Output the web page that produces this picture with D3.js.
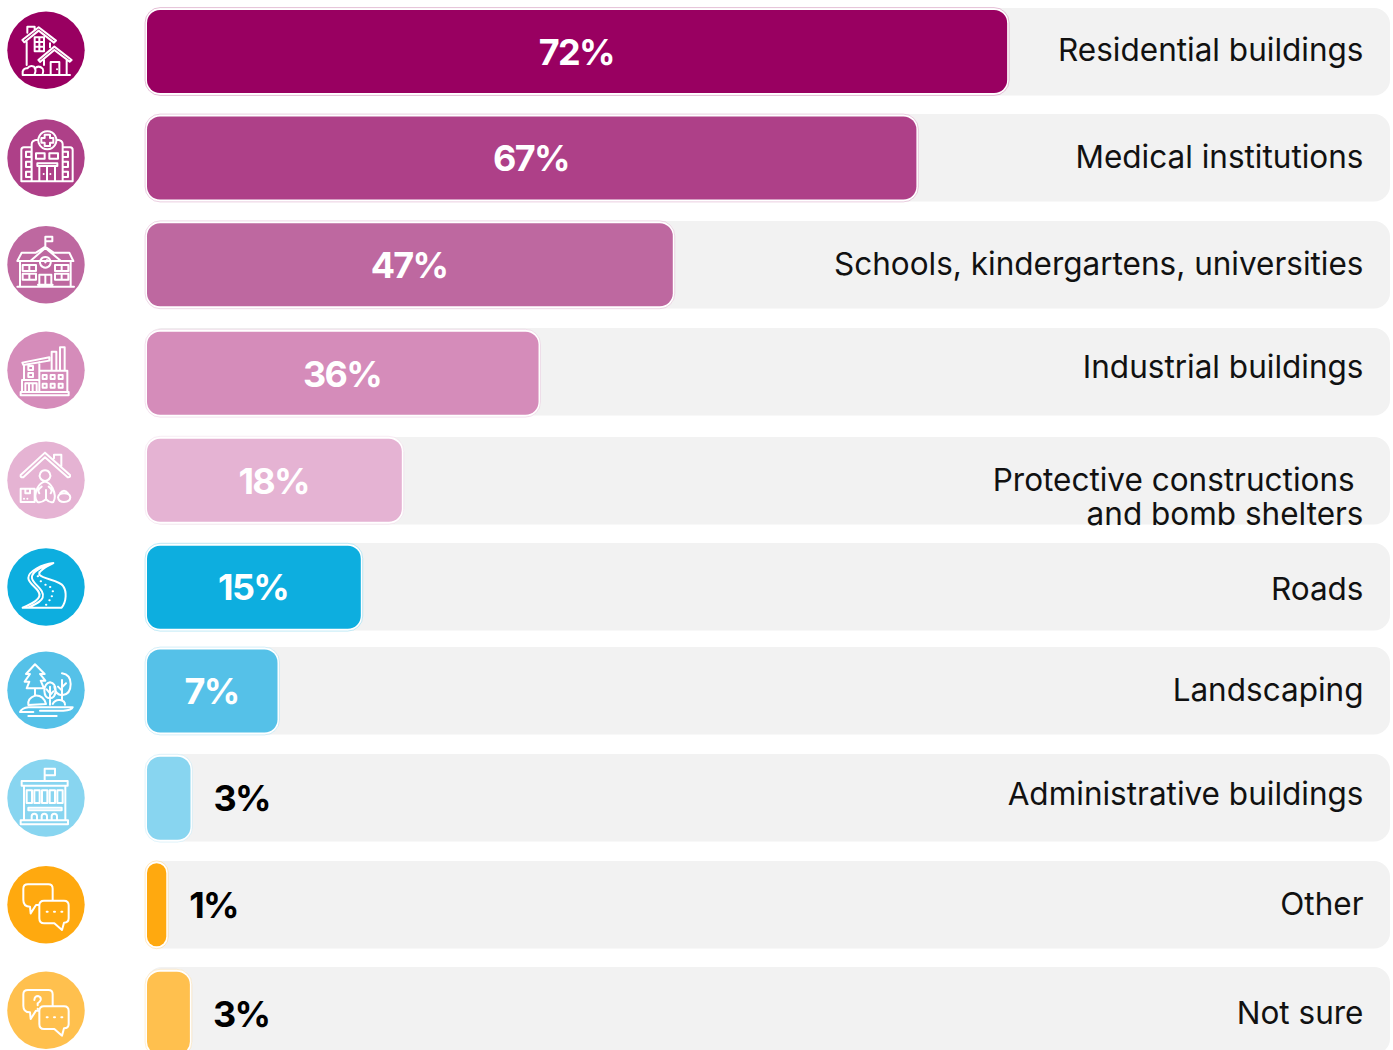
<!DOCTYPE html>
<html>
<head>
<meta charset="utf-8">
<style>
  html, body { margin: 0; background: #fff; }
  svg { display: block; }
  text { font-family: Inter, "Noto Sans", sans-serif; }
  .pct { font-size: 36px; font-weight: 700; letter-spacing: -1.7px; }
  .name { font-size: 31.5px; fill: #111; white-space: pre; }
  .icon path { fill: none; stroke: #fff; stroke-width: 6; stroke-linejoin: round; stroke-linecap: round; }
</style>
</head>
<body>
<svg id="chart"></svg>
<script src="https://cdn.jsdelivr.net/npm/d3@7"></script>
<script>
// values as printed on the chart
const categories = ["Residential buildings", "Medical institutions", "Schools, kindergartens, universities",
  "Industrial buildings", "Protective constructions \nand bomb shelters", "Roads", "Landscaping",
  "Administrative buildings", "Other", "Not sure"];
const printedValues = [72, 67, 47, 36, 18, 15, 7, 3, 1, 3];
// the bars in the picture are not proportional to the printed values, these are the lengths read off it
const drawnLengths = [69.2, 61.9, 42.3, 31.5, 20.5, 17.2, 10.5, 3.5, 1.55, 3.45];
const colors = ["#990061", "#ae4088", "#be68a0", "#d58cba", "#e5b3d3", "#0daedf", "#55c1e8", "#88d5f0", "#ffa90f", "#ffc04e"];

const SIZE = { width: 1393, height: 1050 };
const TRACK = { left: 147, right: 1390, rx: 16, height: 87.5 };
const BAR_HEIGHT = 83;
// rows in the picture are unevenly spaced
const TRACK_TOPS = [8, 114, 221, 328, 437, 543, 647, 754, 861, 967];
const ROW_TOPS = [10, 116.5, 223.3, 331.7, 438.7, 545.7, 649.5, 756.7, 863.3, 971.7];
const ICON_CY = [50.3, 158, 264.7, 370.3, 480.3, 587, 690.3, 798, 904.7, 1010.3];
const PCT_BASE = [65, 171, 278, 387, 494, 600, 704, 811, 918, 1027];
const NAME_BASE = [61, 167.5, 274.5, 378, 490.5, 599.5, 701, 805, 915, 1024];
const INSIDE_MIN = 100;

const CHAT_DOTS = "M140 185h3M162 185h3M184 185h3";
const CHAT = `M84 103H145Q158 103 158 116V150M118 165H108L92 190L90 170Q70 170 70 150V116Q70 103 84 103
  M132 152H192Q206 152 206 166V205Q206 218 192 218L186 240L163 220H132Q118 220 118 205V166Q118 152 132 152Z` + CHAT_DOTS;

// icon outlines, drawn at 3x; second item is the y of the circle centre in those units
const ICONS = [
  [`M67 120L116 82L168 122L162 128L116 92L73 127ZM82 98V80H104V90M80 125V195M104 112h28v42h-28zM118 112V154M104 126H132M104 140H132
    M150 130V142M115 180L163 140L215 180L209 185L163 150L120 186ZM132 180V195M200 180V224M152 224V186H178V224M171 208h.1
    M68 224V214Q72 204 82 205Q90 194 102 200Q110 210 104 222M104 206Q116 194 128 206Q132 214 128 222M68 225H210`, 151],
  [`M142 394a27 27 0 1 0 .1 0ZM134 404H150V414H160V428H150V438H134V428H124V414H134ZM95 544V432Q95 420 114 419M170 419Q188 420 188 432V544
    M95 442H72Q64 442 64 450V544H218V450Q218 442 210 442H188M78 455h16v16h-16zM78 485h16v16h-16zM78 515h16v16h-16z
    M188 455h16v16h-16zM188 485h16v16h-16zM188 515h16v16h-16zM108 460h26v16h-26zM148 460h26v16h-26zM112 490h60v8h-60z
    M118 498V544M165 498V544M141 498V544M131 522h.1M151 522h.1`, 474],
  [`M136 110V80H157V94H136M52 153L65 128H108L136 110L162 128H208L220 153ZM92 152L136 114L182 152M136 141a16 16 0 1 0 .1 0ZM136 157L141 150
    M52 230H222M60 153V228M212 153V228M68 165h40v18h-40zM88 165V183M68 191h40v18h-40zM88 191V209M165 165h40v18h-40zM185 165V183
    M165 191h40v18h-40zM185 191V209M118 194h36v30h-36zM136 194V224M114 224H158`, 164],
  [`M62 546h144v10h-144zM66 510h52v36h-52zM76 520h34v26h-34zM87 520V546M98 520V546M72 510V465M118 482V456M67 458L148 442V452L70 465Z
    M85 468h14v12h-14zM85 489h14v12h-14zM118 482h84v64h-84zM128 495h12v12h-12zM152 495h12v12h-12zM176 495h12v12h-12z
    M128 521h12v12h-12zM152 521h12v12h-12zM176 521h12v12h-12zM155 482V425H169V482M180 482V412H194V482`, 481],
  [`M62 795L135 728L210 795Q212 803 203 802L135 742L70 802Q60 803 62 795ZM162 745V734H184V768M135 781a16 16 0 1 0 .1 0Z
    M112 876Q100 860 112 835Q120 818 135 815Q150 818 158 835Q170 860 160 876Q150 880 138 868Q124 880 112 876ZM125 830Q110 840 118 850M146 830Q160 840 152 850M138 840V868
    M62 836h42v40h-42zM76 836V850H90V836M72 866h.1M82 866h.1M174 862Q176 850 192 850Q210 850 211 862Q210 876 192 876Q176 876 174 862Z
    M180 850Q192 835 204 850`, 811],
  [`M160 100C125 104 85 125 85 145C85 165 125 180 118 200C112 218 85 225 68 234H185C200 215 200 185 190 170C178 150 130 150 118 135C115 125 140 110 160 100
    M150 104C120 112 92 130 96 146C100 165 136 180 128 204C122 220 100 226 84 234
    M128 118h1M118 128h1M113 140h1M122 155h1M136 165h1M150 172h1M158 185h1M155 200h1M148 212h1M138 225h1`, 172],
  [`M105 403L134 432H120L136 452H122L132 475H80L88 455H74L90 432H78ZM105 475V495M150 457Q167 460 167 482Q165 505 150 505Q134 505 133 482Q134 460 150 457Z
    M150 524V470M150 490L140 478M150 495L160 484M186 430Q212 434 212 462Q212 494 186 496Q166 494 163 470M186 510V450M186 472L198 460M186 482L174 470
    M85 525Q82 505 105 497Q130 495 138 522ZM158 522Q165 508 180 510Q195 512 195 524M60 546Q66 534 85 532H215M60 546H100M120 542H190Q215 540 218 532M85 558H170`, 481],
  [`M134 750V715H165V735H134M65 752h138v14h-138zM72 766V870M196 766V870M80 780h16v38h-16zM103 780h16v38h-16zM126 780h16v38h-16zM149 780h16v38h-16zM172 780h16v38h-16z
    M85 832h100v8h-100zM95 870V858Q95 850 103 850Q111 850 111 858V870M125 870V858Q125 850 133 850Q141 850 141 858V870M155 870V858Q155 850 163 850Q171 850 171 858V870
    M62 870h142v12h-142z`, 803],
  [CHAT, 164],
  [CHAT + "M103 133Q104 121 114 121Q124 123 122 133Q120 139 113 143V149M113 159h.1", 164]
];

const main = () => {
  const svg = d3.select("#chart").attr("width", SIZE.width).attr("height", SIZE.height);

  const x = d3.scaleLinear().domain([0, 100]).range([TRACK.left, TRACK.right]);
  const y = d3.scaleOrdinal().domain(categories).range(ROW_TOPS);
  const trackY = d3.scaleOrdinal().domain(categories).range(TRACK_TOPS);
  const barWidth = i => x(drawnLengths[i]) - x(0);

  const rows = svg.selectAll("g.row")
    .data(categories)
    .join("g")
    .attr("class", "row");

  // grey tracks
  rows.append("rect")
    .attr("x", TRACK.left - 1)
    .attr("y", d => trackY(d))
    .attr("width", TRACK.right - TRACK.left + 1)
    .attr("height", TRACK.height)
    .attr("rx", TRACK.rx)
    .attr("fill", "#f2f2f2");

  // bars: pale outer ring, white ring, fill
  rows.append("rect")
    .attr("x", TRACK.left - 1.9)
    .attr("y", d => y(d) - 2.4)
    .attr("width", (d, i) => barWidth(i) + 3.8)
    .attr("height", BAR_HEIGHT + 4.8)
    .attr("rx", (d, i) => Math.min(15, barWidth(i) / 2 + 1.9))
    .attr("fill", "#fff")
    .attr("stroke", (d, i) => colors[i])
    .attr("stroke-opacity", 0.25)
    .attr("stroke-width", 1);

  rows.append("rect")
    .attr("x", x(0))
    .attr("y", d => y(d))
    .attr("width", (d, i) => barWidth(i))
    .attr("height", BAR_HEIGHT)
    .attr("rx", (d, i) => Math.min(13, barWidth(i) / 2))
    .attr("fill", (d, i) => colors[i]);

  // percent labels: centred in long bars, next to short ones
  rows.append("text")
    .attr("class", "pct")
    .attr("x", (d, i) => (barWidth(i) > INSIDE_MIN ? x(0) + barWidth(i) / 2 - 0.8 : x(drawnLengths[i]) + 23))
    .attr("y", (d, i) => PCT_BASE[i])
    .attr("text-anchor", (d, i) => (barWidth(i) > INSIDE_MIN ? "middle" : "start"))
    .attr("fill", (d, i) => (barWidth(i) > INSIDE_MIN ? "#fff" : "#000"))
    .text((d, i) => `${printedValues[i]}%`);

  // category names, right aligned
  rows.append("text")
    .attr("class", "name")
    .attr("text-anchor", "end")
    .attr("y", (d, i) => NAME_BASE[i])
    .selectAll("tspan")
    .data(d => d.split("\n"))
    .join("tspan")
    .attr("x", 1363.5)
    .attr("dy", (d, j) => (j ? 34 : 0))
    .text(d => d);

  // round icons
  const icons = rows.append("g")
    .attr("class", "icon")
    .attr("transform", (d, i) => `translate(46,${ICON_CY[i]})`);

  icons.append("circle")
    .attr("r", 38.7)
    .style("fill", (d, i) => colors[i]);

  icons.append("path")
    .attr("transform", (d, i) => `scale(${1 / 3}) translate(-138,${-ICONS[i][1]})`)
    .attr("d", (d, i) => ICONS[i][0]);
};

window.onload = main;
</script>
</body>
</html>
